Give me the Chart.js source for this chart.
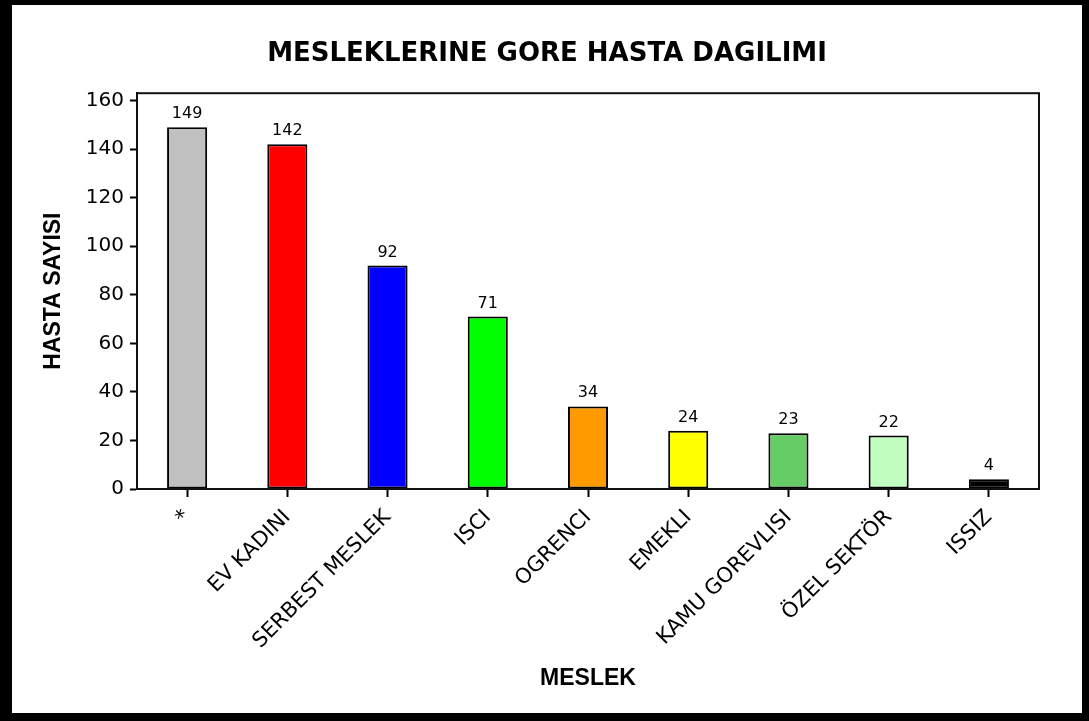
<!DOCTYPE html>
<html>
<head>
<meta charset="utf-8">
<script src="https://cdn.jsdelivr.net/npm/chart.js@4"></script>
<style>
    html, body { margin: 0; padding: 0; background: #000; }
    #frame { position: absolute; left: 12px; top: 5px; width: 1070px; height: 708px; background: #fff; }
</style>
</head>
<body>
<div id="frame"><canvas id="meslekChart" width="1070" height="708"></canvas></div>
<script>
// Meslek kategorileri ve hasta sayilari
var meslekler = ['*', 'EV KADINI', 'SERBEST MESLEK', 'ISCI', 'OGRENCI', 'EMEKLI', 'KAMU GOREVLISI', 'ÖZEL SEKTÖR', 'ISSIZ'];
var hastaSayisi = [149, 142, 92, 71, 34, 24, 23, 22, 4];
var barRenkleri = ['#c0c0c0', '#ff0000', '#0000ff', '#00ff00', '#ff9900', '#ffff00', '#66cc66', '#c0ffc0', '#000000'];
var yTicks = [0, 20, 40, 60, 80, 100, 120, 140, 160];

document.addEventListener("DOMContentLoaded", function () {
    // cizim alaninin cercevesi
    var cerceve = {
        id: 'cerceve',
        afterDatasetsDraw: function (chart) {
            var a = chart.chartArea;
            var ctx = chart.ctx;
            ctx.save();
            ctx.strokeStyle = '#111';
            ctx.lineWidth = 2;
            ctx.strokeRect(a.left, a.top, a.right - a.left, a.bottom - a.top);
            ctx.restore();
        }
    };

    // cubuklarin ustune degerleri yaz
    var degerEtiketi = {
        id: 'degerEtiketi',
        afterDatasetsDraw: function (chart) {
            var ctx = chart.ctx;
            var meta = chart.getDatasetMeta(0);
            ctx.save();
            ctx.font = '16px "DejaVu Sans"';
            ctx.fillStyle = '#000';
            ctx.textAlign = 'center';
            ctx.textBaseline = 'alphabetic';
            meta.data.forEach(function (bar, i) {
                ctx.fillText(String(hastaSayisi[i]), bar.x, bar.y - 9);
            });
            ctx.restore();
        }
    };

    var ctx = document.getElementById('meslekChart').getContext('2d');
    var chart = new Chart(ctx, {
        type: 'bar',
        data: {
            labels: meslekler,
            datasets: [{
                label: 'HASTA SAYISI',
                data: hastaSayisi,
                backgroundColor: barRenkleri,
                borderColor: '#000',
                borderWidth: 2,
                borderSkipped: false,
                barPercentage: 0.4,
                categoryPercentage: 1
            }]
        },
        plugins: [cerceve, degerEtiketi],
        options: {
            responsive: false,
            animation: false,
            layout: {
                autoPadding: false,
                padding: 0
            },
            plugins: {
                legend: { display: false },
                tooltip: { enabled: false },
                title: {
                    display: true,
                    text: 'MESLEKLERINE GORE HASTA DAGILIMI',
                    color: '#000',
                    font: { family: '"DejaVu Sans"', size: 26, weight: 'bold' },
                    padding: { top: 34, bottom: 23 }
                }
            },
            scales: {
                x: {
                    grid: { display: true, drawOnChartArea: false, offset: false, color: '#000', tickLength: 8, tickWidth: 2 },
                    border: { color: '#000', width: 2 },
                    ticks: {
                        color: '#000',
                        font: { family: '"DejaVu Sans"', size: 21 },
                        maxRotation: 45,
                        minRotation: 45,
                        padding: 8,
                        autoSkip: false
                    },
                    title: {
                        display: true,
                        text: 'MESLEK',
                        color: '#000',
                        font: { family: '"Liberation Sans"', size: 23, weight: 'bold' },
                        padding: { top: 0, bottom: 21 }
                    },
                    afterFit: function (scale) { scale.height = 224; }
                },
                y: {
                    min: 0,
                    max: 163,
                    grid: { display: true, drawOnChartArea: false, color: '#000', tickLength: 7, tickWidth: 2 },
                    border: { color: '#000', width: 2 },
                    ticks: {
                        stepSize: 20,
                        color: '#000',
                        font: { family: '"DejaVu Sans"', size: 20 },
                        padding: 6
                    },
                    afterBuildTicks: function (scale) {
                        scale.ticks = yTicks.map(function (v) { return { value: v }; });
                    },
                    title: {
                        display: true,
                        text: 'HASTA SAYISI',
                        color: '#000',
                        font: { family: '"Liberation Sans"', size: 23, weight: 'bold' },
                        padding: { top: 28, bottom: 0 }
                    },
                    afterFit: function (scale) { scale.width = 125; }
                },
                // sagdaki bos bosluk icin gorunmez eksen
                sag: {
                    position: 'right',
                    display: true,
                    grid: { display: false },
                    border: { display: false },
                    ticks: { display: false },
                    afterFit: function (scale) { scale.width = 43; }
                }
            }
        }
    });
});
</script>
</body>
</html>
